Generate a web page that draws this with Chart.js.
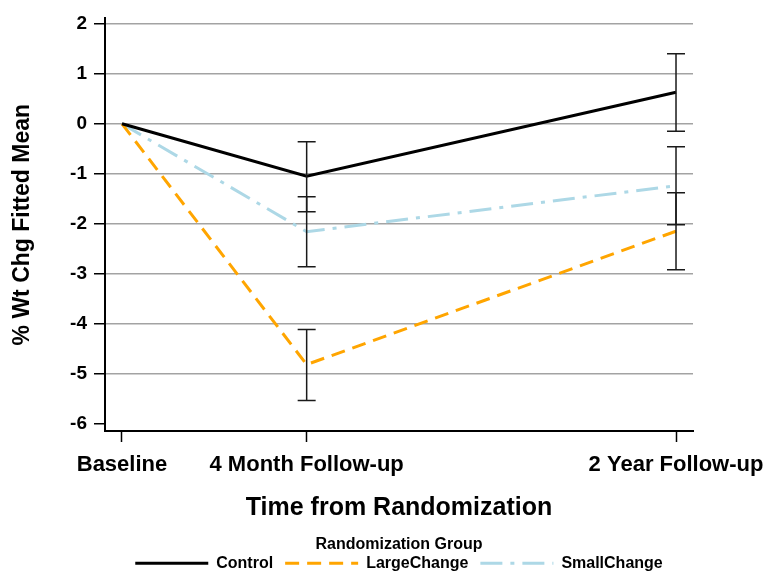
<!DOCTYPE html>
<html>
<head>
<meta charset="utf-8">
<script src="https://cdn.jsdelivr.net/npm/chart.js@4"></script>
<style>
  html, body { margin: 0; padding: 0; background: #fff; }
  #wrap { width: 773px; height: 573px; }
</style>
</head>
<body>
<div id="wrap"><canvas id="chart-area" width="773" height="573"></canvas></div>
<script>
// time points (position on the axis) and their labels
var timePos = [0, 1, 3];
var timeLabels = ['Baseline', '4 Month Follow-up', '2 Year Follow-up'];

// fitted mean % weight change per group
var controlMean = [0, -1.05, 0.63];
var controlLow = [null, -1.76, -0.15];
var controlHigh = [null, -0.36, 1.40];

var largeMean = [0, -4.82, -2.15];
var largeLow = [null, -5.54, -2.92];
var largeHigh = [null, -4.12, -1.38];

var smallMean = [0, -2.16, -1.24];
var smallLow = [null, -2.86, -2.02];
var smallHigh = [null, -1.46, -0.46];

var yTicks = [-6, -5, -4, -3, -2, -1, 0, 1, 2];

var fontFam = '"Liberation Sans", Arial, sans-serif';

function pts(vals) {
	return vals.map(function(v, i) { return { x: timePos[i], y: v }; });
}

var errorBars = {
	id: 'errorBars',
	afterDatasetsDraw: function(chart) {
		var ctx = chart.ctx;
		var xs = chart.scales.x, ys = chart.scales.y;
		ctx.save();
		ctx.strokeStyle = '#1a1a1a';
		ctx.lineWidth = 1.5;
		chart.data.datasets.forEach(function(ds) {
			for (var i = 0; i < timePos.length; i++) {
				if (ds.errLow[i] == null) continue;
				var px = xs.getPixelForValue(timePos[i]);
				var lo = ys.getPixelForValue(ds.errLow[i]);
				var hi = ys.getPixelForValue(ds.errHigh[i]);
				ctx.beginPath();
				ctx.moveTo(px, lo); ctx.lineTo(px, hi);
				ctx.moveTo(px - 9, lo); ctx.lineTo(px + 9, lo);
				ctx.moveTo(px - 9, hi); ctx.lineTo(px + 9, hi);
				ctx.stroke();
			}
		});
		ctx.restore();
	}
};

new Chart(document.getElementById('chart-area'), {
	type: 'line',
	data: {
		datasets: [ {
			label: 'Control',
			data: pts(controlMean),
			errLow: controlLow, errHigh: controlHigh,
			borderColor: '#000000',
			borderWidth: 3
		}, {
			label: 'LargeChange',
			data: pts(largeMean),
			errLow: largeLow, errHigh: largeHigh,
			borderColor: '#FFA500',
			borderWidth: 3,
			borderDash: [14, 8]
		}, {
			label: 'SmallChange',
			data: pts(smallMean),
			errLow: smallLow, errHigh: smallHigh,
			borderColor: '#ADD8E6',
			borderWidth: 3,
			borderDash: [22, 8, 4, 8]
		} ]
	},
	options: {
		responsive: false,
		animation: false,
		layout: { padding: { top: 17, right: 80, left: 0, bottom: -8.2 } },
		elements: { point: { radius: 0 }, line: { tension: 0 } },
		plugins: {
			tooltip: { enabled: false },
			legend: {
				position: 'bottom',
				fullSize: false,
				title: {
					display: true,
					text: 'Randomization Group',
					color: '#000',
					padding: { top: 0, bottom: -13 },
					font: { family: fontFam, size: 16, weight: 'bold' }
				},
				labels: {
					usePointStyle: true,
					pointStyle: 'line',
					pointStyleWidth: 73,
					boxHeight: 16,
					padding: 12,
					color: '#000',
					font: { family: fontFam, size: 16, weight: 'bold' },
					generateLabels: function(chart) {
						var items = Chart.defaults.plugins.legend.labels.generateLabels(chart);
						items.forEach(function(it) {
							var ds = chart.data.datasets[it.datasetIndex];
							it.lineDash = ds.borderDash || [];
							it.lineWidth = ds.borderWidth;
							it.strokeStyle = ds.borderColor;
						});
						return items;
					}
				}
			}
		},
		scales: {
			x: {
				type: 'linear',
				min: -0.092,
				max: 3.092,
				afterBuildTicks: function(axis) {
					axis.ticks = timePos.map(function(v) { return { value: v }; });
				},
				afterFit: function(axis) {
					axis.height = 106;
					axis.paddingLeft = 0;
					axis.paddingRight = 0;
				},
				ticks: {
					color: '#000',
					padding: 10,
					maxRotation: 0,
					font: { family: fontFam, size: 22, weight: 'bold' },
					callback: function(v) { return timeLabels[timePos.indexOf(v)]; }
				},
				grid: {
					drawOnChartArea: false,
					drawTicks: true,
					tickLength: 11,
					tickColor: '#000',
					tickWidth: 1.5
				},
				border: { display: true, color: '#000', width: 2 },
				title: {
					display: true,
					text: 'Time from Randomization',
					color: '#000',
					padding: { top: 0, bottom: 14 },
					font: { family: fontFam, size: 25, weight: 'bold' }
				}
			},
			y: {
				min: -6.15,
				max: 2.11,
				afterBuildTicks: function(axis) {
					axis.ticks = yTicks.map(function(v) { return { value: v }; });
				},
				afterFit: function(axis) { axis.width = 105; },
				ticks: {
					color: '#000',
					padding: 7,
					font: { family: fontFam, size: 19, weight: 'bold' }
				},
				grid: {
					color: function(c) { return c.tick && c.tick.value === -6 ? 'rgba(0,0,0,0)' : '#a3a3a3'; },
					lineWidth: 1.5,
					tickLength: 11,
					tickColor: '#000',
					tickWidth: 1.5
				},
				border: { display: true, color: '#000', width: 2 },
				title: {
					display: true,
					text: '% Wt Chg Fitted Mean',
					color: '#000',
					padding: { top: 9, bottom: 0 },
					font: { family: fontFam, size: 23, weight: 'bold' }
				}
			}
		}
	},
	plugins: [ errorBars ]
});
</script>
</body>
</html>
